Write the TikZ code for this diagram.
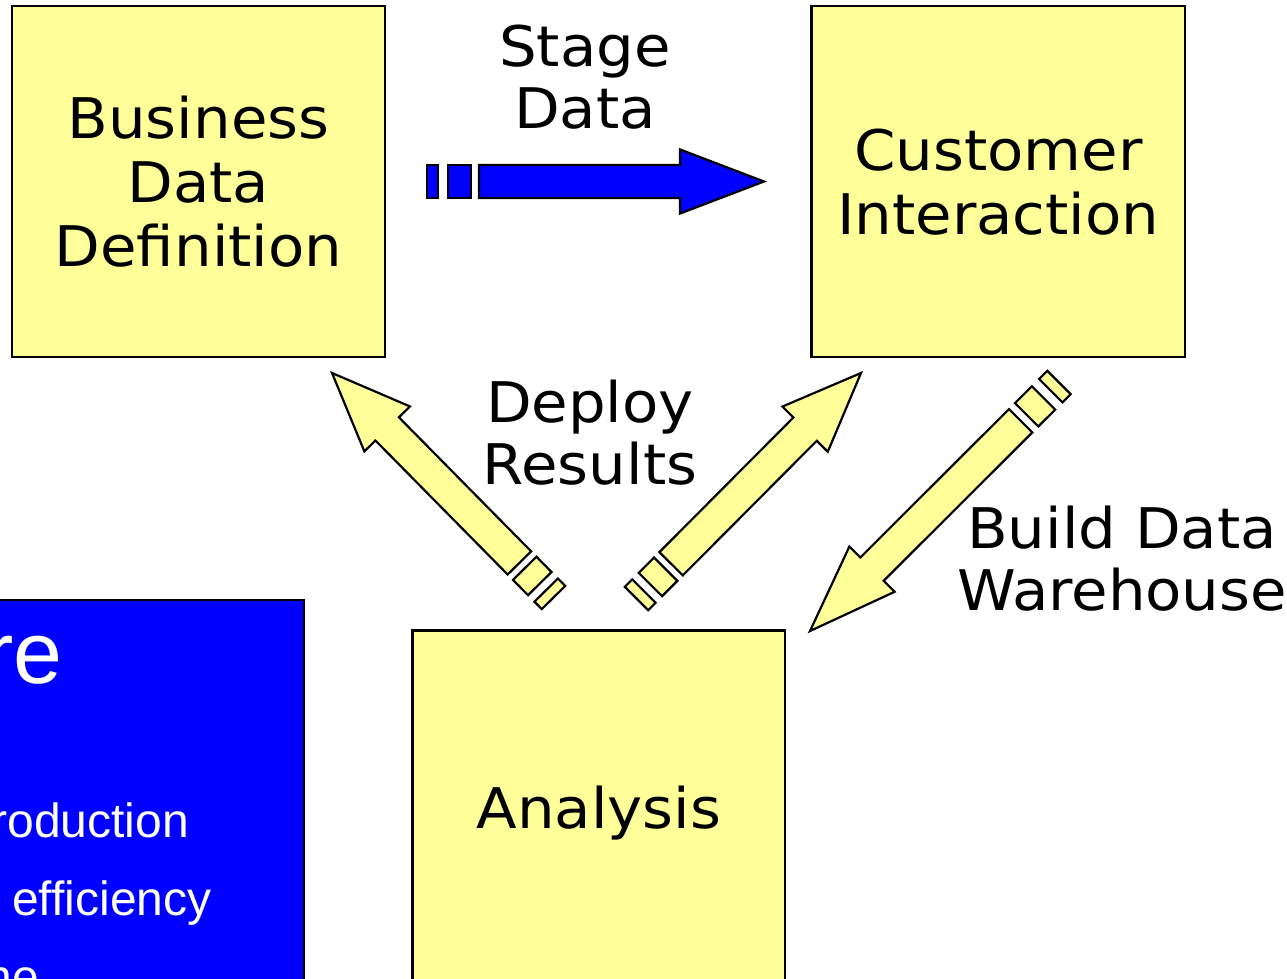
\documentclass[tikz,border=0pt]{standalone}
\usepackage{fontspec}
\setmainfont[FakeStretch=1.06]{DejaVu Sans}
\newfontfamily\panelfont{Liberation Sans}
\usetikzlibrary{calc}

\definecolor{noteyellow}{RGB}{255,255,153}
\definecolor{flowblue}{RGB}{0,0,255}

% Striped block arrow from tail coordinate #1 to tip coordinate #2, drawn with style #3
\newcommand\stripedarrow[3]{%
  \path let \p1=($(#2)-(#1)$) in
    \pgfextra{\pgfmathsetmacro\tmplen{veclen(\x1,\y1)}%
              \pgfmathsetmacro\tmpang{atan2(\y1,\x1)}%
              \xdef\arrlen{\tmplen}\xdef\arrang{\tmpang}};
  \begin{scope}[shift={(#1)}, rotate=\arrang]
    \pgfmathsetmacro\arrA{0.033*\arrlen}%
    \pgfmathsetmacro\arrB{0.062*\arrlen}%
    \pgfmathsetmacro\arrC{0.130*\arrlen}%
    \pgfmathsetmacro\arrD{0.154*\arrlen}%
    \pgfmathsetmacro\arrH{0.751*\arrlen}%
    \draw[#3] (0pt,-16.5pt) rectangle (\arrA pt,16.5pt);
    \draw[#3] (\arrB pt,-16.5pt) rectangle (\arrC pt,16.5pt);
    \draw[#3] (\arrD pt,-16.5pt) -- (\arrH pt,-16.5pt) -- (\arrH pt,-32pt)
      -- (\arrlen pt,0pt) -- (\arrH pt,32pt) -- (\arrH pt,16.5pt)
      -- (\arrD pt,16.5pt) -- cycle;
  \end{scope}}

\begin{document}
\begin{tikzpicture}[x=1pt, y=-1pt, line join=miter,
  stagebox/.style={draw=black, line width=2.2pt, fill=noteyellow, inner sep=0pt,
    align=center, font=\fontsize{56}{64}\selectfont},
  caption/.style={align=center, inner sep=0pt, font=\fontsize{56}{62}\selectfont},
  yellowarrow/.style={draw=black, line width=2.2pt, fill=noteyellow},
  bluearrow/.style={draw=black, line width=2.2pt, fill=flowblue},
  panel/.style={draw=black, line width=2.2pt, fill=flowblue, inner sep=0pt},
  paneltext/.style={text=white, inner sep=0pt, font=\panelfont\fontsize{48}{56}\selectfont},
  paneltitle/.style={text=white, inner sep=0pt, font=\panelfont\fontsize{88}{96}\selectfont}]
\useasboundingbox (0,0) rectangle (1287,979);
\clip (0,0) rectangle (1287,979);

% the three process boxes
\node[stagebox, minimum width=373, minimum height=351] (bdd) at (198.5,181.75)
  {Business\\Data\\Definition};
\node[stagebox, minimum width=373.5, minimum height=351] (cust) at (998.25,181.75)
  {Customer\\Interaction};
\node[stagebox, minimum width=372.5, minimum height=366] (ana) at (598.75,813.5)
  {Analysis};

% blue panel at the lower left
\node[panel, anchor=north east, minimum width=330, minimum height=420] (panel) at (305,598.5) {};
\node[paneltitle, anchor=base east] (ptitle) at (63,683) {re};
\node[paneltext, anchor=base east] (pline1) at (189,837) {roduction};
\node[paneltext, anchor=base west] (pline2) at (12,915) {efficiency};
\node[paneltext, anchor=base east] (pline3) at (39,993) {ne};

% arrow captions
\node[caption] (stageLbl) at (585,77) {Stage\\Data};
\node[caption] (deployLbl) at (590,433) {Deploy\\Results};
\node[caption] (buildLbl) at (1122,559) {Build Data\\Warehouse};

% arrow end points
\coordinate (stageTail) at (427,181.5);
\coordinate (stageTip) at (764,181.5);
\coordinate (backTail) at (553.5,597.5);
\coordinate (backTip) at (332,373);
\coordinate (fwdTail) at (636.5,598.5);
\coordinate (fwdTip) at (861,373);
\coordinate (buildTail) at (1059,382.5);
\coordinate (buildTip) at (810,631);

\stripedarrow{stageTail}{stageTip}{bluearrow}
\stripedarrow{backTail}{backTip}{yellowarrow}
\stripedarrow{fwdTail}{fwdTip}{yellowarrow}
\stripedarrow{buildTail}{buildTip}{yellowarrow}
\end{tikzpicture}
\end{document}
